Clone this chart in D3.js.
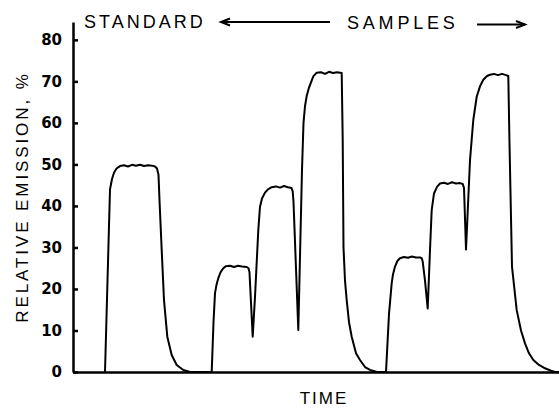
<!DOCTYPE html>
<html>
<head>
<meta charset="utf-8">
<script src="https://cdn.jsdelivr.net/npm/d3@7"></script>
<style>
  html, body { margin: 0; padding: 0; background: #fff; }
  svg { display: block; }
</style>
</head>
<body>
<svg id="chart" width="559" height="409"></svg>
<script>
// ---- data (time in arbitrary units, emission in %) ----
const time = [
  32, 34.5, 37, 39, 41, 43.5, 47, 51, 55, 59, 63, 67, 71, 75, 79, 82, 84, 85.5, 86.5, 88.7, 91, 94.3, 98.7, 103.7, 110.3, 117,
  138.7, 140.5, 142, 143.5, 145.3, 147.5, 150.3, 153, 157, 161, 165, 169, 173.7, 175.5, 176.5, 179.7,
  182, 185.3, 187, 189, 192, 195, 198.7, 203, 207, 211, 215, 218.5, 219.7, 220.5, 225.3,
  229, 230.5, 232, 233.7, 236, 240.3, 243.7, 248, 252, 256, 260, 264, 268.7, 269.7, 270.5, 272, 273.7, 276, 278.7, 283, 287, 292, 297, 304,
  313, 316, 318.7, 320, 322, 324.5, 327, 331, 335, 339, 343, 347, 348.7, 349.7, 352, 354.7,
  357, 358.7, 361, 364, 367, 371, 375, 379, 383, 387, 389.7, 391, 393,
  397, 400.3, 403.7, 407, 410.3, 414, 417, 421, 425, 429, 433, 435.3, 436.5, 439, 443.7, 448, 452, 456, 460.3, 466, 472, 478, 482, 486
];
const emission = [
  0, 22, 44, 46.5, 48, 49, 49.6, 49.8, 49.5, 49.9, 49.7, 49.9, 49.6, 49.8, 49.7, 49.5, 49, 47.5, 41.4, 29.4, 17.3, 8.5, 4.1, 1.7, 0.5, 0,
  0, 12, 19, 21, 22.6, 24, 25, 25.5, 25.6, 25.3, 25.6, 25.4, 25.3, 25, 24, 8.5,
  18.1, 34.2, 39.8, 41.8, 43.2, 44, 44.5, 44.7, 44.4, 44.8, 44.5, 44.3, 43.5, 41, 10.1,
  48.7, 60, 64, 66.5, 68.5, 71.2, 72.1, 72.2, 71.8, 72.3, 72, 72.2, 72, 56, 30, 22, 17.3, 12, 8.5, 4.5, 2.9, 1.2, 0.5, 0,
  0, 14, 21.4, 23.5, 25.4, 26.8, 27.4, 27.7, 27.5, 27.8, 27.6, 27.6, 27.4, 26.6, 22, 15.3,
  29.4, 39, 43, 44.6, 45.4, 45.6, 45.3, 45.7, 45.4, 45.5, 45.3, 44.3, 29.5,
  51, 60.7, 66.3, 68.8, 70.4, 71.3, 71.6, 71.8, 71.5, 71.8, 71.5, 71.3, 55, 25.4, 14.9, 10, 6.9, 4.5, 2.9, 1.7, 0.9, 0.3, 0, 0
];
const yTicks = [0, 10, 20, 30, 40, 50, 60, 70, 80];
const yTickLabels = ["0", "10", "20", "30", "40", "50", "60", "70", "80"];
const yLabel = "RELATIVE EMISSION, %";
const xLabel = "TIME";
const standardLabel = "STANDARD";
const samplesLabel = "SAMPLES";

// ---- layout ----
const svg = d3.select("#chart");
const x = d3.scaleLinear().domain([0, 486]).range([73, 559]);
const y = d3.scaleLinear().domain([0, 84.3]).range([372, 22]);

// y axis
const yAxis = d3.axisLeft(y)
  .tickValues(yTicks)
  .tickFormat((d, i) => yTickLabels[i])
  .tickSizeInner(-5)
  .tickSizeOuter(0)
  .tickPadding(11);
const gy = svg.append("g").attr("transform", "translate(73,0)").call(yAxis);
gy.select(".domain").attr("stroke", "#000").attr("stroke-width", 2.5);
gy.selectAll(".tick line").attr("stroke", "#000").attr("stroke-width", 2.5);
gy.selectAll(".tick text")
  .attr("fill", "#000")
  .style("font-family", "'DejaVu Sans', sans-serif")
  .style("font-weight", "bold")
  .style("font-size", "15px");

// x axis (no ticks)
const xAxis = d3.axisBottom(x).tickValues([]).tickSizeOuter(0);
const gx = svg.append("g").attr("transform", "translate(0,372)").call(xAxis);
gx.select(".domain").attr("stroke", "#000").attr("stroke-width", 2.5);

// trace
const pts = time.map((t, i) => [t, emission[i]]);
const line = d3.line().x(d => x(d[0])).y(d => y(d[1])).curve(d3.curveLinear);
svg.append("path")
  .datum(pts)
  .attr("d", line)
  .attr("fill", "none")
  .attr("stroke", "#000")
  .attr("stroke-width", 2)
  .attr("stroke-linejoin", "round");

// labels
const font = "'Liberation Sans', Arial, sans-serif";
svg.append("text")
  .attr("transform", "translate(28,197) rotate(-90)")
  .attr("text-anchor", "middle")
  .style("font-family", font)
  .style("font-size", "17px")
  .style("letter-spacing", "2.9px")
  .text(yLabel);

svg.append("text")
  .attr("x", 324).attr("y", 404)
  .attr("text-anchor", "middle")
  .style("font-family", font)
  .style("font-size", "17px")
  .style("letter-spacing", "2px")
  .text(xLabel);

svg.append("text")
  .attr("x", 84).attr("y", 28)
  .style("font-family", font)
  .style("font-size", "18px")
  .style("letter-spacing", "3px")
  .text(standardLabel);

svg.append("text")
  .attr("x", 347).attr("y", 29)
  .style("font-family", font)
  .style("font-size", "18px")
  .style("letter-spacing", "3.8px")
  .text(samplesLabel);

// arrows
const arrows = svg.append("g").attr("stroke", "#000").attr("stroke-width", 2).attr("fill", "none");
arrows.append("line").attr("x1", 221).attr("y1", 22).attr("x2", 330).attr("y2", 22);
arrows.append("path").attr("d", "M230,18.5 L221,22 L230,25.5");
arrows.append("line").attr("x1", 477).attr("y1", 24.5).attr("x2", 525).attr("y2", 24.5);
arrows.append("path").attr("d", "M516,21 L525,24.5 L516,28");
</script>
</body>
</html>
